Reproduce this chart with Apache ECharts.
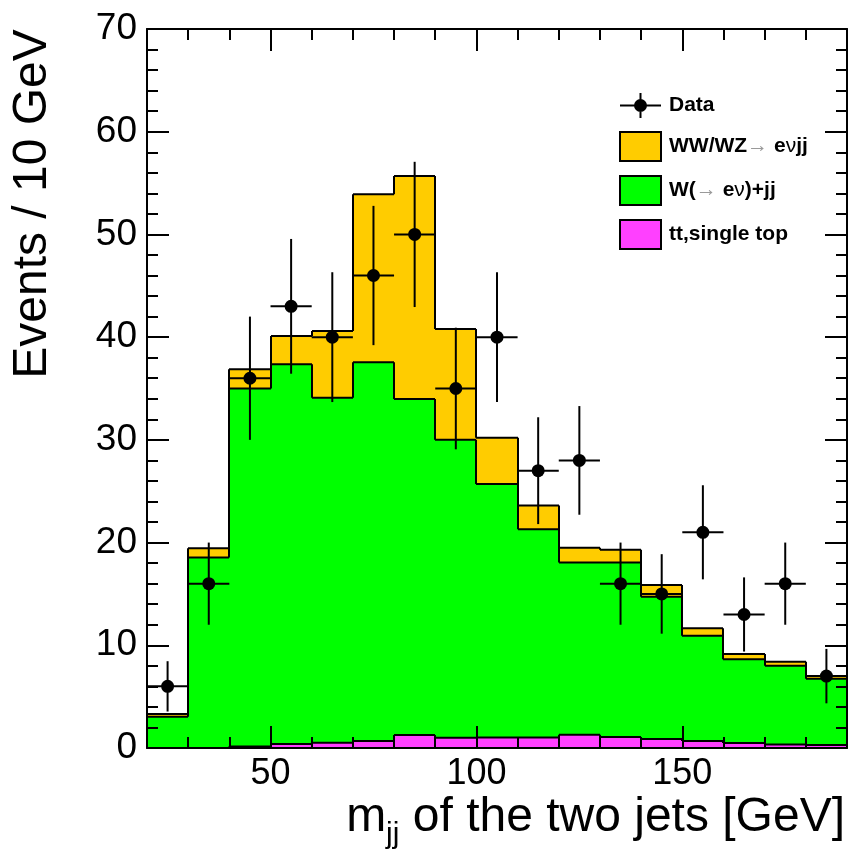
<!DOCTYPE html>
<html><head><meta charset="utf-8">
<script src="https://cdn.jsdelivr.net/npm/echarts@6/dist/echarts.min.js"></script>
<style>html,body{margin:0;padding:0;background:#fff}#c{width:849px;height:849px}</style>
</head><body><div id="c"></div>
<script>
// ---- data ----
const binEdges = [20,30,40,50,60,70,80,90,100,110,120,130,140,150,160,170,180,190];
const dataCounts = [6,16,36,43,40,46,50,35,40,27,28,16,15,21,13,16,7];
const dataErrors = [2.45,4.0,6.0,6.56,6.32,6.78,7.07,5.92,6.32,5.2,5.29,4.0,3.87,4.58,3.61,4.0,2.65];
const singleTop = [0,0,0.15,0.38,0.5,0.68,1.27,1.0,1.03,1.03,1.3,1.07,0.87,0.68,0.48,0.34,0.28];
const wJets = [3.05,18.55,34.85,36.98,33.6,36.87,32.71,29.0,24.67,20.27,16.75,16.98,13.86,10.26,8.16,7.66,6.47];
const diboson = [0.26,0.9,1.87,2.74,6.5,16.35,21.72,10.8,4.5,2.3,1.45,1.25,1.14,0.71,0.51,0.4,0.25];
const xTickValues = [50,100,150];
const seriesNames = ['Data','WW/WZ→ eνjj','W(→ eν)+jj','tt,single top'];
const colors = {diboson:'#ffcc00', wjets:'#00ff00', top:'#ff40ff'};

const FONT = '"Liberation Sans", Arial, Helvetica, sans-serif';

// cumulative stacks
const cumTop = singleTop.slice();
const cumW = wJets.map((v,i)=>v+cumTop[i]);
const cumWW = diboson.map((v,i)=>v+cumW[i]);
function layer(base, top){
  return top.map((t,i)=>[binEdges[i], binEdges[i+1], base? base[i]:0, t, i>0 ? top[i-1] : 0]);
}
function histRender(color){
  return function(params, api){
    const x0=api.value(0), x1=api.value(1), b=api.value(2), t=api.value(3), pt=api.value(4);
    const pBL = api.coord([x0,b]), pTR = api.coord([x1,t]), pPrev = api.coord([x0,pt]);
    const xl = Math.round(pBL[0]), xr = Math.round(pTR[0]);
    const ch = [];
    if (t > b) ch.push({type:'rect', shape:{x:xl, y:pTR[1], width:xr-xl, height:pBL[1]-pTR[1]}, style:{fill:color}});
    ch.push({type:'line', shape:{x1:xl, y1:pTR[1], x2:xr, y2:pTR[1]}, style:{stroke:'#000', lineWidth:2}});
    ch.push({type:'line', shape:{x1:xl, y1:pPrev[1], x2:xl, y2:pTR[1]}, style:{stroke:'#000', lineWidth:2}});
    return {type:'group', children:ch};
  };
}
const centers = dataCounts.map((_,i)=>(binEdges[i]+binEdges[i+1])/2);
const errItems = dataCounts.map((y,i)=>[binEdges[i], binEdges[i+1], centers[i], y, dataErrors[i]]);
function errRender(params, api){
  const x0=api.value(0), x1=api.value(1), xc=api.value(2), y=api.value(3), e=api.value(4);
  const a=api.coord([x0,y]), b=api.coord([x1,y]), lo=api.coord([xc,y-e]), hi=api.coord([xc,y+e]);
  return {type:'group', children:[
    {type:'line', shape:{x1:a[0],y1:a[1],x2:b[0],y2:b[1]}, style:{stroke:'#000', lineWidth:2}},
    {type:'line', shape:{x1:lo[0],y1:lo[1],x2:hi[0],y2:hi[1]}, style:{stroke:'#000', lineWidth:2}}
  ]};
}

const axLine = {show:true, lineStyle:{color:'#000', width:2}};
const tickStyle = {color:'#000', width:2};
function xAx(pos, major, labels){
  const a = {type:'value', min:20, max:190, position:pos, z:10,
    axisLine: major ? {show:false} : axLine,
    splitLine:{show:false}};
  if (major){
    a.axisTick = {show:true, inside:true, length:22, customValues:xTickValues, lineStyle:tickStyle};
    a.axisLabel = labels ? {show:true, customValues:xTickValues, fontSize:36, fontFamily:FONT, color:'#000', margin:8} : {show:false};
  } else {
    a.interval = 10;
    a.axisTick = {show:true, inside:true, length:11, lineStyle:tickStyle};
    a.axisLabel = {show:false};
  }
  return a;
}
function yAx(pos, labels){
  return {type:'value', min:0, max:70, interval:10, position:pos, z:10,
    axisLine:axLine,
    axisTick:{show:true, inside:true, length:22, lineStyle:tickStyle},
    minorTick:{show:true, splitNumber:5, length:11, lineStyle:tickStyle},
    axisLabel: labels ? {show:true, fontSize:37, fontFamily:FONT, color:'#000', margin:10} : {show:false},
    splitLine:{show:false}, minorSplitLine:{show:false}};
}

// x title pieces measured
const cv = document.createElement('canvas').getContext('2d');
const mainF = '48px ' + FONT, subF = '30px ' + FONT;
cv.font = mainF; const wm = cv.measureText('m').width; const wr = cv.measureText(' of the two jets [GeV]').width;
cv.font = subF; const ws = cv.measureText('jj').width;
const xTitleRight = 845, xTitleY = 818;
const x0t = xTitleRight - (wm+ws+wr);

const chart = echarts.init(document.getElementById('c'), null, {renderer:'canvas'});
chart.setOption({
  animation:false,
  backgroundColor:'#fff',
  grid:{left:147, right:2, top:29, bottom:101, outerBoundsMode:'none'},
  xAxis:[xAx('bottom',false,false), xAx('bottom',true,true), xAx('top',false,false), xAx('top',true,false)],
  yAxis:[yAx('left',true), yAx('right',false)],
  legend:{
    orient:'vertical', left:614, top:88, itemWidth:41, itemHeight:29, itemGap:13,
    data:[
      {name:seriesNames[0], icon:'path://M0,13.5 h41 v2 h-41 Z M19.5,2 h2 v25 h-2 Z M14,14.5 A6.5,6.5 0 1,1 27,14.5 A6.5,6.5 0 1,1 14,14.5 Z', itemStyle:{color:'#000', opacity:1}},
      {name:seriesNames[1], icon:'rect', itemStyle:{color:colors.diboson, borderColor:'#000', borderWidth:2}},
      {name:seriesNames[2], icon:'rect', itemStyle:{color:colors.wjets, borderColor:'#000', borderWidth:2}},
      {name:seriesNames[3], icon:'rect', itemStyle:{color:colors.top, borderColor:'#000', borderWidth:2}}
    ],
    formatter:function(n){
      if (n===seriesNames[1]) return '{b|WW/WZ}{g|→}{b| e}{n|ν}{b|jj}';
      if (n===seriesNames[2]) return '{b|W(}{g|→}{b| e}{n|ν}{b|)+jj}';
      return '{b|'+n+'}';
    },
    textStyle:{fontFamily:FONT, fontSize:21, fontWeight:'bold', color:'#000', padding:[0,0,0,3],
      rich:{
        b:{fontFamily:FONT, fontSize:21, fontWeight:'bold', color:'#000'},
        g:{fontFamily:FONT, fontSize:21, fontWeight:'normal', color:'#9a9a9a'},
        n:{fontFamily:FONT, fontSize:21, fontWeight:'normal', color:'#000'}
      }},
    selectedMode:false
  },
  graphic:[
    {type:'text', x:33, y:204, rotation:Math.PI/2, style:{text:'Events / 10 GeV', font:mainF, fill:'#000', align:'center', verticalAlign:'middle'}},
    {type:'text', x:x0t, y:xTitleY, style:{text:'m', font:mainF, fill:'#000', align:'left', verticalAlign:'middle'}},
    {type:'text', x:x0t+wm, y:xTitleY+17, style:{text:'jj', font:subF, fill:'#000', align:'left', verticalAlign:'middle'}},
    {type:'text', x:x0t+wm+ws, y:xTitleY, style:{text:' of the two jets [GeV]', font:mainF, fill:'#000', align:'left', verticalAlign:'middle'}}
  ],
  series:[
    {name:seriesNames[1], type:'custom', renderItem:histRender(colors.diboson), data:layer(cumW, cumWW), itemStyle:{color:colors.diboson}, z:2},
    {name:seriesNames[2], type:'custom', renderItem:histRender(colors.wjets), data:layer(cumTop, cumW), itemStyle:{color:colors.wjets}, z:3},
    {name:seriesNames[3], type:'custom', renderItem:histRender(colors.top), data:layer(null, cumTop), itemStyle:{color:colors.top}, z:4},
    {name:'errors', type:'custom', renderItem:errRender, data:errItems, z:5},
    {name:seriesNames[0], type:'scatter', data:centers.map((x,i)=>[x, dataCounts[i]]), symbol:'circle', symbolSize:13, itemStyle:{color:'#000', opacity:1}, z:6}
  ]
});
</script></body></html>
